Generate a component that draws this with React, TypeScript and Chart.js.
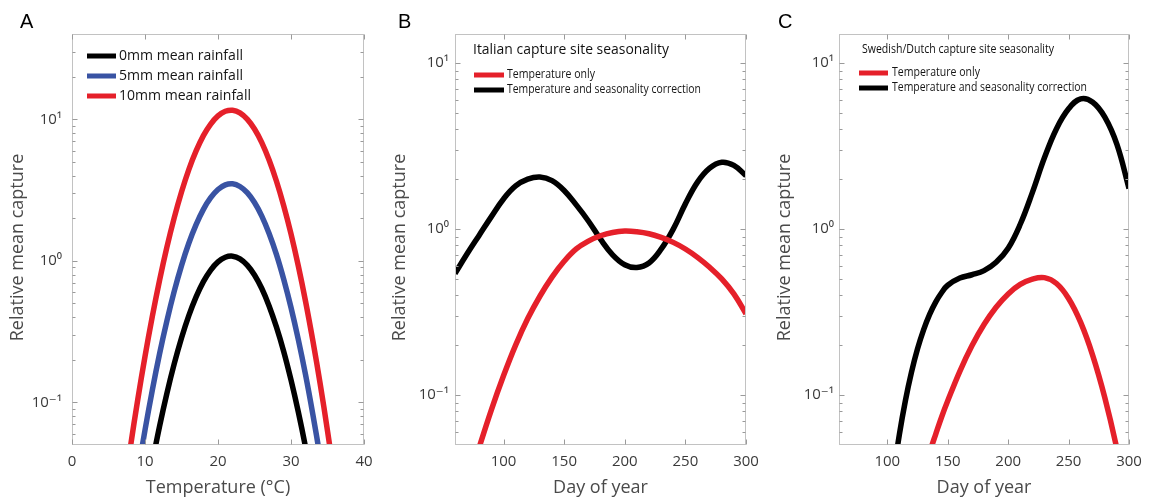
import React, { useEffect, useRef } from "react";
import { Chart, registerables } from "chart.js";
Chart.register(...registerables);

// ---------- data ----------
const tempA = [7, 8, 9, 10, 11, 12, 13, 14, 15, 16, 17, 18, 19, 20, 21, 22, 23, 24, 25, 26, 27, 28, 29, 30, 31, 32, 33, 34, 35, 36, 37];
const rain0mm = [0.00197, 0.0045, 0.00966, 0.0196, 0.0376, 0.068, 0.116, 0.187, 0.285, 0.41, 0.556, 0.713, 0.861, 0.983, 1.059, 1.078, 1.033, 0.933, 0.794, 0.637, 0.48, 0.341, 0.229, 0.144, 0.0857, 0.048, 0.0252, 0.0125, 0.00586, 0.00258, 0.00107];
const rain5mm = [0.0064, 0.0146, 0.0313, 0.0637, 0.122, 0.221, 0.377, 0.608, 0.925, 1.33, 1.8, 2.31, 2.79, 3.19, 3.44, 3.5, 3.35, 3.03, 2.58, 2.07, 1.56, 1.11, 0.741, 0.468, 0.278, 0.156, 0.0818, 0.0406, 0.019, 0.0084, 0.0035];
const rain10mm = [0.0212, 0.0483, 0.104, 0.211, 0.404, 0.731, 1.25, 2.01, 3.06, 4.41, 5.97, 7.66, 9.25, 10.56, 11.38, 11.58, 11.1, 10.02, 8.53, 6.84, 5.15, 3.66, 2.45, 1.55, 0.92, 0.515, 0.271, 0.135, 0.063, 0.0277, 0.0115];

const dayB = [60, 70, 80, 90, 100, 110, 120, 130, 140, 150, 160, 170, 180, 190, 200, 210, 220, 230, 240, 250, 260, 270, 280, 290, 300];
const italyTempOnly = [0.0155, 0.0279, 0.0485, 0.0815, 0.1306, 0.2, 0.289, 0.394, 0.514, 0.64, 0.76, 0.847, 0.912, 0.955, 0.973, 0.964, 0.938, 0.891, 0.832, 0.759, 0.676, 0.589, 0.501, 0.407, 0.309];
const italySeasonal = [0.54, 0.71, 0.92, 1.19, 1.52, 1.82, 2.0, 2.06, 1.96, 1.71, 1.4, 1.12, 0.87, 0.7, 0.61, 0.587, 0.625, 0.757, 1.0, 1.42, 1.92, 2.33, 2.53, 2.42, 2.1];

const dayC = [95, 100, 105, 110, 115, 120, 125, 130, 135, 140, 145, 150, 160, 170, 180, 190, 200, 210, 220, 230, 240, 250, 260, 270, 280, 290, 300];
const swedenTempOnly = [0.0036, 0.0052, 0.0074, 0.0104, 0.0143, 0.0199, 0.0261, 0.0346, 0.0452, 0.058, 0.074, 0.0923, 0.139, 0.198, 0.266, 0.338, 0.407, 0.464, 0.5, 0.51, 0.47, 0.382, 0.274, 0.173, 0.0964, 0.0474, 0.0205];
const swedenSeasonal = [0.0077, 0.0169, 0.033, 0.058, 0.0929, 0.1374, 0.19, 0.247, 0.306, 0.363, 0.415, 0.459, 0.507, 0.531, 0.562, 0.631, 0.767, 1.07, 1.66, 2.69, 4.03, 5.31, 6.1, 5.82, 4.73, 3.24, 1.76];

const tempTicks = [0, 10, 20, 30, 40];
const dayTicks = [100, 150, 200, 250, 300];
const logTickValues = [0.1, 1, 10];
const logTickLabels = ["10\u207B\u00B9", "10\u2070", "10\u00B9"];

const rainLabels = ["0mm mean rainfall", "5mm mean rainfall", "10mm mean rainfall"];
const seasonLabels = ["Temperature only", "Temperature and seasonality correction"];
const yTitle = "Relative mean capture";

// ---------- style ----------
const RED = "#e5202a";
const BLUE = "#3953a3";
const BLACK = "#000000";
const FONT = "'Open Sans', 'DejaVu Sans', sans-serif";

type Panel = {
  left: number;
  width: number;
  yWidth: number;
  padRight: number;
  yTitleX: number;
  yTickPad: number;
  xMin: number;
  xMax: number;
  yMax: number;
  xTicks: number[];
  xTitle: string;
  letter: string;
  letterX: number;
  series: { xs: number[]; ys: number[]; color: string; label: string }[];
  heading?: { text: string; dx: number; dy: number; size: number; width: number };
  legend: { lineX0: number; lineX1: number; textX: number; rows: number[]; size: number; widths: number[] };
};

const panels: Panel[] = [
  {
    left: 0, width: 385, yWidth: 72, padRight: 21, yTitleX: 18, yTickPad: 10,
    xMin: 0, xMax: 40, yMax: 40, xTicks: tempTicks, xTitle: "Temperature (\u00B0C)",
    letter: "A", letterX: 20,
    series: [
      { xs: tempA, ys: rain0mm, color: BLACK, label: rainLabels[0] },
      { xs: tempA, ys: rain5mm, color: BLUE, label: rainLabels[1] },
      { xs: tempA, ys: rain10mm, color: RED, label: rainLabels[2] },
    ],
    legend: { lineX0: 15, lineX1: 44, textX: 47, rows: [22, 42, 62], size: 15, widths: [124, 124, 132] },
  },
  {
    left: 385, width: 385, yWidth: 70, padRight: 24, yTitleX: 15, yTickPad: 6,
    xMin: 60, xMax: 300, yMax: 15, xTicks: dayTicks, xTitle: "Day of year",
    letter: "B", letterX: 13,
    series: [
      { xs: dayB, ys: italyTempOnly, color: RED, label: seasonLabels[0] },
      { xs: dayB, ys: italySeasonal, color: BLACK, label: seasonLabels[1] },
    ],
    heading: { text: "Italian capture site seasonality", dx: 18, dy: 16, size: 14, width: 196 },
    legend: { lineX0: 19, lineX1: 49, textX: 52, rows: [41, 56], size: 12, widths: [88, 194] },
  },
  {
    left: 770, width: 385, yWidth: 69, padRight: 26, yTitleX: 14.5, yTickPad: 5,
    xMin: 60, xMax: 300, yMax: 15, xTicks: dayTicks, xTitle: "Day of year",
    letter: "C", letterX: 8,
    series: [
      { xs: dayC, ys: swedenTempOnly, color: RED, label: seasonLabels[0] },
      { xs: dayC, ys: swedenSeasonal, color: BLACK, label: seasonLabels[1] },
    ],
    heading: { text: "Swedish/Dutch capture site seasonality", dx: 23, dy: 16, size: 12, width: 192 },
    legend: { lineX0: 20, lineX1: 49, textX: 53, rows: [39, 54], size: 12, widths: [88, 195] },
  },
];

function makeFramePlugin(p: Panel) {
  return {
    id: "frame" + p.letter,
    afterDatasetsDraw(chart: any) {
      const { ctx, chartArea: a, scales } = chart;
      const xs = scales.x;
      const ys = scales.y;
      ctx.save();
      // box
      ctx.strokeStyle = "#c2c2c2";
      ctx.lineWidth = 1;
      const L = Math.round(a.left) + 0.5, R = Math.round(a.right) - 0.5;
      const T = Math.round(a.top) + 0.5, B = Math.round(a.bottom) - 0.5;
      ctx.strokeRect(L, T, R - L, B - T);
      // inward ticks
      ctx.strokeStyle = "#9a9a9a";
      ctx.beginPath();
      for (const v of p.xTicks) {
        const px = Math.round(xs.getPixelForValue(v)) + 0.5;
        ctx.moveTo(px, B); ctx.lineTo(px, B - 5);
        ctx.moveTo(px, T); ctx.lineTo(px, T + 5);
      }
      for (let e = -2; e <= 2; e++) {
        for (let m = 1; m <= 9; m++) {
          const v = m * Math.pow(10, e);
          if (v <= ys.min || v >= ys.max) continue;
          const py = Math.round(ys.getPixelForValue(v)) + 0.5;
          const len = m === 1 ? 5 : 3;
          ctx.moveTo(L, py); ctx.lineTo(L + len, py);
          ctx.moveTo(R, py); ctx.lineTo(R - len, py);
        }
      }
      ctx.stroke();
      // y-axis title
      ctx.save();
      ctx.translate(p.yTitleX, (a.top + a.bottom) / 2 + 8);
      ctx.rotate(-Math.PI / 2);
      ctx.fillStyle = "#4a4a4a";
      ctx.font = `18px ${FONT}`;
      ctx.textAlign = "center";
      ctx.textBaseline = "middle";
      ctx.fillText(yTitle, 0, 0);
      ctx.restore();
      // heading
      ctx.textBaseline = "middle";
      ctx.textAlign = "left";
      if (p.heading) {
        ctx.fillStyle = "#111111";
        ctx.font = `${p.heading.size}px ${FONT}`;
        ctx.fillText(p.heading.text, a.left + p.heading.dx, a.top + p.heading.dy, p.heading.width);
      }
      // legend
      const lg = p.legend;
      p.series.forEach((s, i) => {
        const y = a.top + lg.rows[i];
        ctx.strokeStyle = s.color;
        ctx.lineWidth = 5;
        ctx.beginPath();
        ctx.moveTo(a.left + lg.lineX0, y);
        ctx.lineTo(a.left + lg.lineX1, y);
        ctx.stroke();
        ctx.fillStyle = "#151515";
        ctx.font = `${lg.size}px ${FONT}`;
        ctx.fillText(s.label, a.left + lg.textX, y, lg.widths[i]);
      });
      // panel letter
      ctx.fillStyle = "#000";
      ctx.font = `20px 'Liberation Sans', Arial, sans-serif`;
      ctx.textBaseline = "alphabetic";
      ctx.fillText(p.letter, p.letterX, 28);
      ctx.restore();
    },
  };
}

function makeConfig(p: Panel): any {
  return {
    type: "line",
    data: {
      datasets: p.series.map((s) => ({
        label: s.label,
        data: s.xs.map((x, i) => ({ x, y: s.ys[i] })),
        borderColor: s.color,
        backgroundColor: s.color,
        borderWidth: 5.5,
        pointRadius: 0,
        tension: 0.4,
        fill: false,
        clip: 0,
        borderJoinStyle: "round",
      })),
    },
    options: {
      animation: false,
      responsive: false,
      devicePixelRatio: 1,
      layout: { padding: { top: 34, right: p.padRight, left: 0, bottom: 0 } },
      plugins: { legend: { display: false }, tooltip: { enabled: false } },
      scales: {
        x: {
          type: "linear",
          min: p.xMin,
          max: p.xMax,
          position: "bottom",
          grid: { display: false, drawTicks: false },
          border: { display: false },
          afterBuildTicks: (s: any) => { s.ticks = p.xTicks.map((v) => ({ value: v })); },
          afterFit: (s: any) => { s.height = 55; },
          ticks: {
            font: { family: FONT, size: 15 },
            color: "#3a3a3a",
            padding: 8,
            maxRotation: 0,
            autoSkip: false,
            callback: (v: any) => String(v),
          },
          title: {
            display: true,
            text: p.xTitle,
            font: { family: FONT, size: 18 },
            color: "#4a4a4a",
            padding: { top: 0, bottom: 1 },
          },
        },
        y: {
          type: "logarithmic",
          min: 0.05,
          max: p.yMax,
          position: "left",
          grid: { display: false, drawTicks: false },
          border: { display: false },
          afterBuildTicks: (s: any) => { s.ticks = logTickValues.map((v) => ({ value: v })); },
          afterFit: (s: any) => { s.width = p.yWidth; },
          ticks: {
            font: { family: FONT, size: 15 },
            color: "#3a3a3a",
            padding: p.yTickPad,
            autoSkip: false,
            callback: (v: any) => {
              const idx = logTickValues.findIndex((t) => Math.abs(t - v) / t < 1e-6);
              return idx >= 0 ? logTickLabels[idx] : "";
            },
          },
          title: { display: false, text: yTitle },
        },
      },
    },
    plugins: [makeFramePlugin(p)],
  };
}

function PanelChart({ p }: { p: Panel }) {
  const ref = useRef<HTMLCanvasElement | null>(null);
  useEffect(() => {
    if (!ref.current) return;
    const chart = new Chart(ref.current, makeConfig(p));
    return () => chart.destroy();
  }, [p]);
  return (
    <canvas
      ref={ref}
      width={p.width}
      height={500}
      style={{ position: "absolute", left: p.left, top: 0, width: p.width, height: 500 }}
    />
  );
}

export default function App() {
  return (
    <div style={{ position: "fixed", left: 0, top: 0, width: 1155, height: 500, background: "#fff" }}>
      {panels.map((p) => (
        <PanelChart key={p.letter} p={p} />
      ))}
    </div>
  );
}
